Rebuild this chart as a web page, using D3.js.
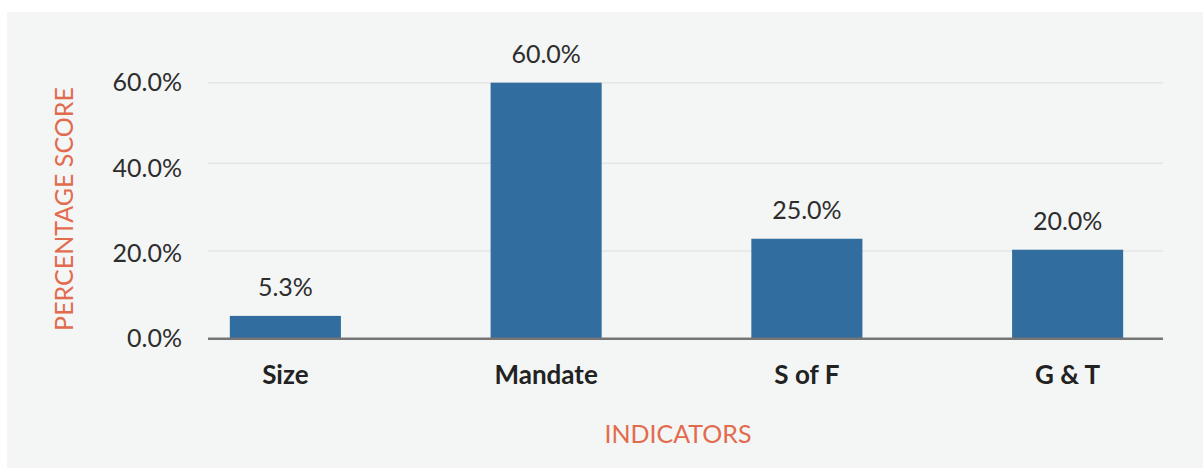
<!DOCTYPE html>
<html>
<head>
<meta charset="utf-8">
<script src="https://cdn.jsdelivr.net/npm/d3@7"></script>
<style>
  body { margin: 0; background: #fff; }
  svg { display: block; font-family: Lato, "Open Sans", sans-serif; }
</style>
</head>
<body>
<svg id="chart" width="1203" height="468"></svg>
<script>
// Data
const categories = ["Size", "Mandate", "S of F", "G & T"];
const barValues = [5.2, 60.0, 22.8, 20.3];          // bar heights (%)
const barLabels = ["5.3%", "60.0%", "25.0%", "20.0%"]; // printed labels
const tickValues = [0, 20, 40, 60];
const gridValues = [20, 40];

const svg = d3.select("#chart");

// panel background
svg.append("rect")
    .attr("x", 7).attr("y", 12)
    .attr("width", 1196).attr("height", 456)
    .attr("fill", "#f4f6f5");

const plotLeft = 208, plotRight = 1163;
const baseY = 338.7, topY = 82.7;

// bar scale (bars + gridlines)
const y = d3.scaleLinear().domain([0, 58.4]).range([baseY, topY]).clamp(true);
// tick label scale
const yTick = d3.scaleLinear().domain([0, 60]).range([baseY, topY]);

const x = d3.scaleBand()
    .domain(categories)
    .range([155, 1198])
    .paddingInner(0.574)
    .paddingOuter(0.287);

// gridlines
svg.append("g")
    .selectAll("line")
    .data(gridValues.map(v => y(v)).concat([topY]))
    .join("line")
    .attr("x1", plotLeft).attr("x2", plotRight)
    .attr("y1", d => d).attr("y2", d => d)
    .attr("stroke", "#e4e6e5")
    .attr("stroke-width", 1.5);

// y tick labels
const yAxis = svg.append("g")
    .attr("transform", `translate(182,0)`)
    .call(d3.axisLeft(yTick).tickValues(tickValues).tickSize(0).tickPadding(0)
        .tickFormat(d => d3.format(".1f")(d) + "%"));
yAxis.select(".domain").remove();
yAxis.selectAll("text")
    .attr("font-size", 25)
    .attr("fill", "#2d2d2d")
    .attr("font-family", "Lato, sans-serif");

// bars
svg.append("g")
    .selectAll("rect")
    .data(categories)
    .join("rect")
    .attr("x", d => x(d))
    .attr("width", x.bandwidth())
    .attr("y", (d, i) => y(barValues[i]))
    .attr("height", (d, i) => baseY - y(barValues[i]))
    .attr("fill", "#316d9f");

// baseline
svg.append("line")
    .attr("x1", plotLeft).attr("x2", plotRight)
    .attr("y1", baseY).attr("y2", baseY)
    .attr("stroke", "#757575")
    .attr("stroke-width", 2.5);

// data labels
svg.append("g")
    .selectAll("text")
    .data(categories)
    .join("text")
    .attr("x", d => x(d) + x.bandwidth() / 2)
    .attr("y", (d, i) => y(barValues[i]) - 20)
    .attr("text-anchor", "middle")
    .attr("font-size", 25)
    .attr("fill", "#2d2d2d")
    .text((d, i) => barLabels[i]);

// category labels
svg.append("g")
    .selectAll("text")
    .data(categories)
    .join("text")
    .attr("x", d => x(d) + x.bandwidth() / 2)
    .attr("y", 384)
    .attr("text-anchor", "middle")
    .attr("font-size", 26)
    .attr("font-weight", "bold")
    .attr("fill", "#222")
    .text(d => d);

// axis titles
svg.append("text")
    .attr("x", 678).attr("y", 443)
    .attr("text-anchor", "middle")
    .attr("font-size", 25)
    .attr("fill", "#e26b4e")
    .text("INDICATORS");

svg.append("text")
    .attr("transform", "translate(73,209) rotate(-90)")
    .attr("text-anchor", "middle")
    .attr("font-size", 25)
    .attr("fill", "#e26b4e")
    .text("PERCENTAGE SCORE");
</script>
</body>
</html>
